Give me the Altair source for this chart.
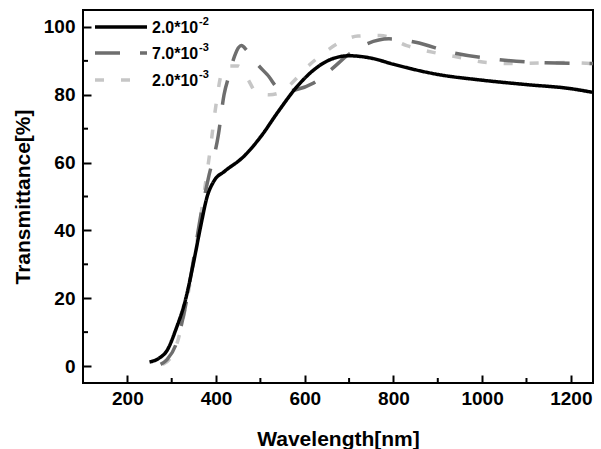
import altair as alt
import pandas as pd

# ---- data ----
wl_a = [250, 270, 290, 310, 330, 350, 365, 380, 395, 420, 460, 500, 540, 580, 620, 660, 700, 750, 800, 900, 1000, 1100, 1200, 1250]
t_a = [1.2, 2.2, 4.7, 11, 19, 31, 41, 50, 54.5, 57.5, 61.5, 67.5, 75, 82, 87.3, 90.5, 91.5, 90.8, 89, 86, 84.3, 83, 81.8, 80.7]

wl_b = [275, 290, 310, 330, 350, 365, 382, 405, 418, 430, 442, 457, 470, 490, 515, 550, 580, 620, 660, 700, 740, 790, 850, 930, 1030, 1130, 1250]
t_b = [0.5, 2, 6.5, 17, 32, 44, 55, 68, 80, 86, 91.5, 94.5, 93, 89.5, 86, 81, 81.5, 83.5, 87.5, 92, 95, 96.5, 95.5, 92.5, 90.5, 89.5, 89.2]

wl_c = [280, 295, 315, 335, 355, 372, 386, 401, 412, 430, 450, 470, 491, 520, 550, 575, 600, 640, 680, 720, 770, 830, 890, 950, 1010, 1070, 1190, 1250]
t_c = [0.5, 2, 8, 20, 35, 50, 63, 78, 86, 88.5, 88.5, 85, 80.7, 80, 81, 84, 87.5, 92, 95.5, 97.3, 97.5, 94.5, 92.5, 91, 89.5, 89.2, 89.5, 89.2]

series_names = ["2.0*10", "7.0*10", "2.0*10"]
series_sup = ["-2", "-3", "-3"]
series_colors = ["#000000", "#6e6e6e", "#c6c6c6"]
series_dash = [[1, 0], [25, 20], [9, 17]]

x_major = [200, 400, 600, 800, 1000, 1200]
x_minor = [300, 500, 700, 900, 1100]
y_major = [0, 20, 40, 60, 80, 100]
y_minor = [10, 30, 50, 70, 90]

W, H = 510, 373
FONT = "Liberation Sans"

xs = alt.Scale(domain=[100, 1250], nice=False, zero=False)
ys = alt.Scale(domain=[-5, 105], nice=False, zero=False)

x_axis = alt.Axis(values=x_major, format="d", title="Wavelength[nm]", domain=False, grid=False,
                  offset=-8, tickSize=8, tickWidth=2, tickColor="black",
                  labelPadding=6, labelFont=FONT, labelFontSize=19, labelFontWeight="bold",
                  labelColor="black", titleFont=FONT, titleFontSize=21, titleFontWeight="bold",
                  titleColor="black", titlePadding=20, labelFlush=False)
y_axis = alt.Axis(values=y_major, format="d", title="Transmittance[%]", domain=False, grid=False,
                  offset=-8, tickSize=8, tickWidth=2, tickColor="black",
                  labelPadding=8, labelFont=FONT, labelFontSize=19, labelFontWeight="bold",
                  labelColor="black", titleFont=FONT, titleFontSize=21, titleFontWeight="bold",
                  titleColor="black", titlePadding=10, labelFlush=False)

layers = []
data_sets = [(wl_c, t_c, 2), (wl_b, t_b, 1), (wl_a, t_a, 0)]
for wl, t, i in data_sets:
    df = pd.DataFrame({"x": wl, "y": t})
    layers.append(
        alt.Chart(df).mark_line(color=series_colors[i], strokeWidth=3.5,
                                strokeDash=series_dash[i], interpolate="monotone")
        .encode(x=alt.X("x:Q", scale=xs, axis=x_axis),
                y=alt.Y("y:Q", scale=ys, axis=y_axis))
    )

# minor ticks (inward)
xm = pd.DataFrame({"x": x_minor})
layers.append(alt.Chart(xm).mark_rule(color="black", strokeWidth=2).encode(
    x=alt.X("x:Q", scale=xs, axis=x_axis), y=alt.value(H), y2=alt.value(H - 5)))
ym = pd.DataFrame({"y": y_minor})
layers.append(alt.Chart(ym).mark_rule(color="black", strokeWidth=2).encode(
    y=alt.Y("y:Q", scale=ys, axis=y_axis), x=alt.value(0), x2=alt.value(5)))

# manual legend
leg_rows = [17, 43, 70]
for i in range(3):
    row = pd.DataFrame({"name": [series_names[i]], "sup": [series_sup[i]]})
    layers.append(alt.Chart(row).mark_rule(color=series_colors[i], strokeWidth=3.5,
                                           strokeDash=series_dash[i]).encode(
        x=alt.value(12), x2=alt.value(64), y=alt.value(leg_rows[i])))
    layers.append(alt.Chart(row).mark_text(align="left", baseline="middle", font=FONT,
                                           fontSize=16, fontWeight="bold", color="black").encode(
        x=alt.value(69), y=alt.value(leg_rows[i] + 1), text="name:N"))
    layers.append(alt.Chart(row).mark_text(align="left", baseline="middle", font=FONT,
                                           fontSize=11, fontWeight="bold", color="black").encode(
        x=alt.value(116), y=alt.value(leg_rows[i] - 5), text="sup:N"))

chart = alt.layer(*layers).properties(
    width=W, height=H,
    autosize=alt.AutoSizeParams(type="none"),
    padding={"left": 83, "top": 10, "right": 8, "bottom": 66},
    background="white",
).configure_view(stroke="black", strokeWidth=2)

chart.save("out.html", embed_options={"renderer": "svg", "actions": False})
